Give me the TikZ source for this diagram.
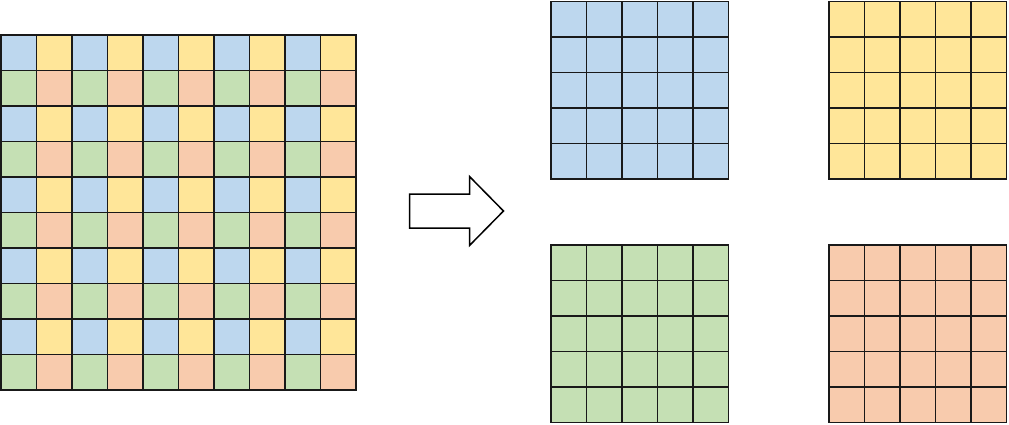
\documentclass[tikz,border=0pt]{standalone}
\definecolor{cblue}{HTML}{BDD7EE}
\definecolor{cyellow}{HTML}{FFE699}
\definecolor{cgreen}{HTML}{C5E0B4}
\definecolor{corange}{HTML}{F8CBAD}
\tikzset{cell/.style={draw=black!90,line width=1.6pt},
 bigarrow/.style={draw=black,line width=1.5pt,fill=white,line join=miter}}
\begin{document}
\begin{tikzpicture}[x=1pt,y=-1pt]
\useasboundingbox (0,0) rectangle (1009,425);
\def\cs{35.5}
% left mixed grid
\foreach \i in {0,...,9}{
 \foreach \j in {0,...,9}{
  \pgfmathparse{int(mod(\i,2))}\let\ci\pgfmathresult
  \pgfmathparse{int(mod(\j,2))}\let\cj\pgfmathresult
  \ifnum\cj=0
    \ifnum\ci=0 \def\col{cblue}\else\def\col{cyellow}\fi
  \else
    \ifnum\ci=0 \def\col{cgreen}\else\def\col{corange}\fi
  \fi
  \filldraw[cell,fill=\col] ({1+\i*\cs},{35+\j*\cs}) rectangle ++(\cs,\cs);
 }}
% right grids
\foreach \ox/\oy/\col in {551/1.5/cblue,829/1.5/cyellow,551/245/cgreen,829/245/corange}{
 \foreach \i in {0,...,4}{
  \foreach \j in {0,...,4}{
   \filldraw[cell,fill=\col] ({\ox+\i*\cs},{\oy+\j*\cs}) rectangle ++(\cs,\cs);
 }}}
% arrow
\draw[bigarrow] (409.5,194) -- (469.5,194) -- (469.5,176.5) -- (503.5,211) -- (469.5,245.5) -- (469.5,228) -- (409.5,228) -- cycle;
\end{tikzpicture}
\end{document}
